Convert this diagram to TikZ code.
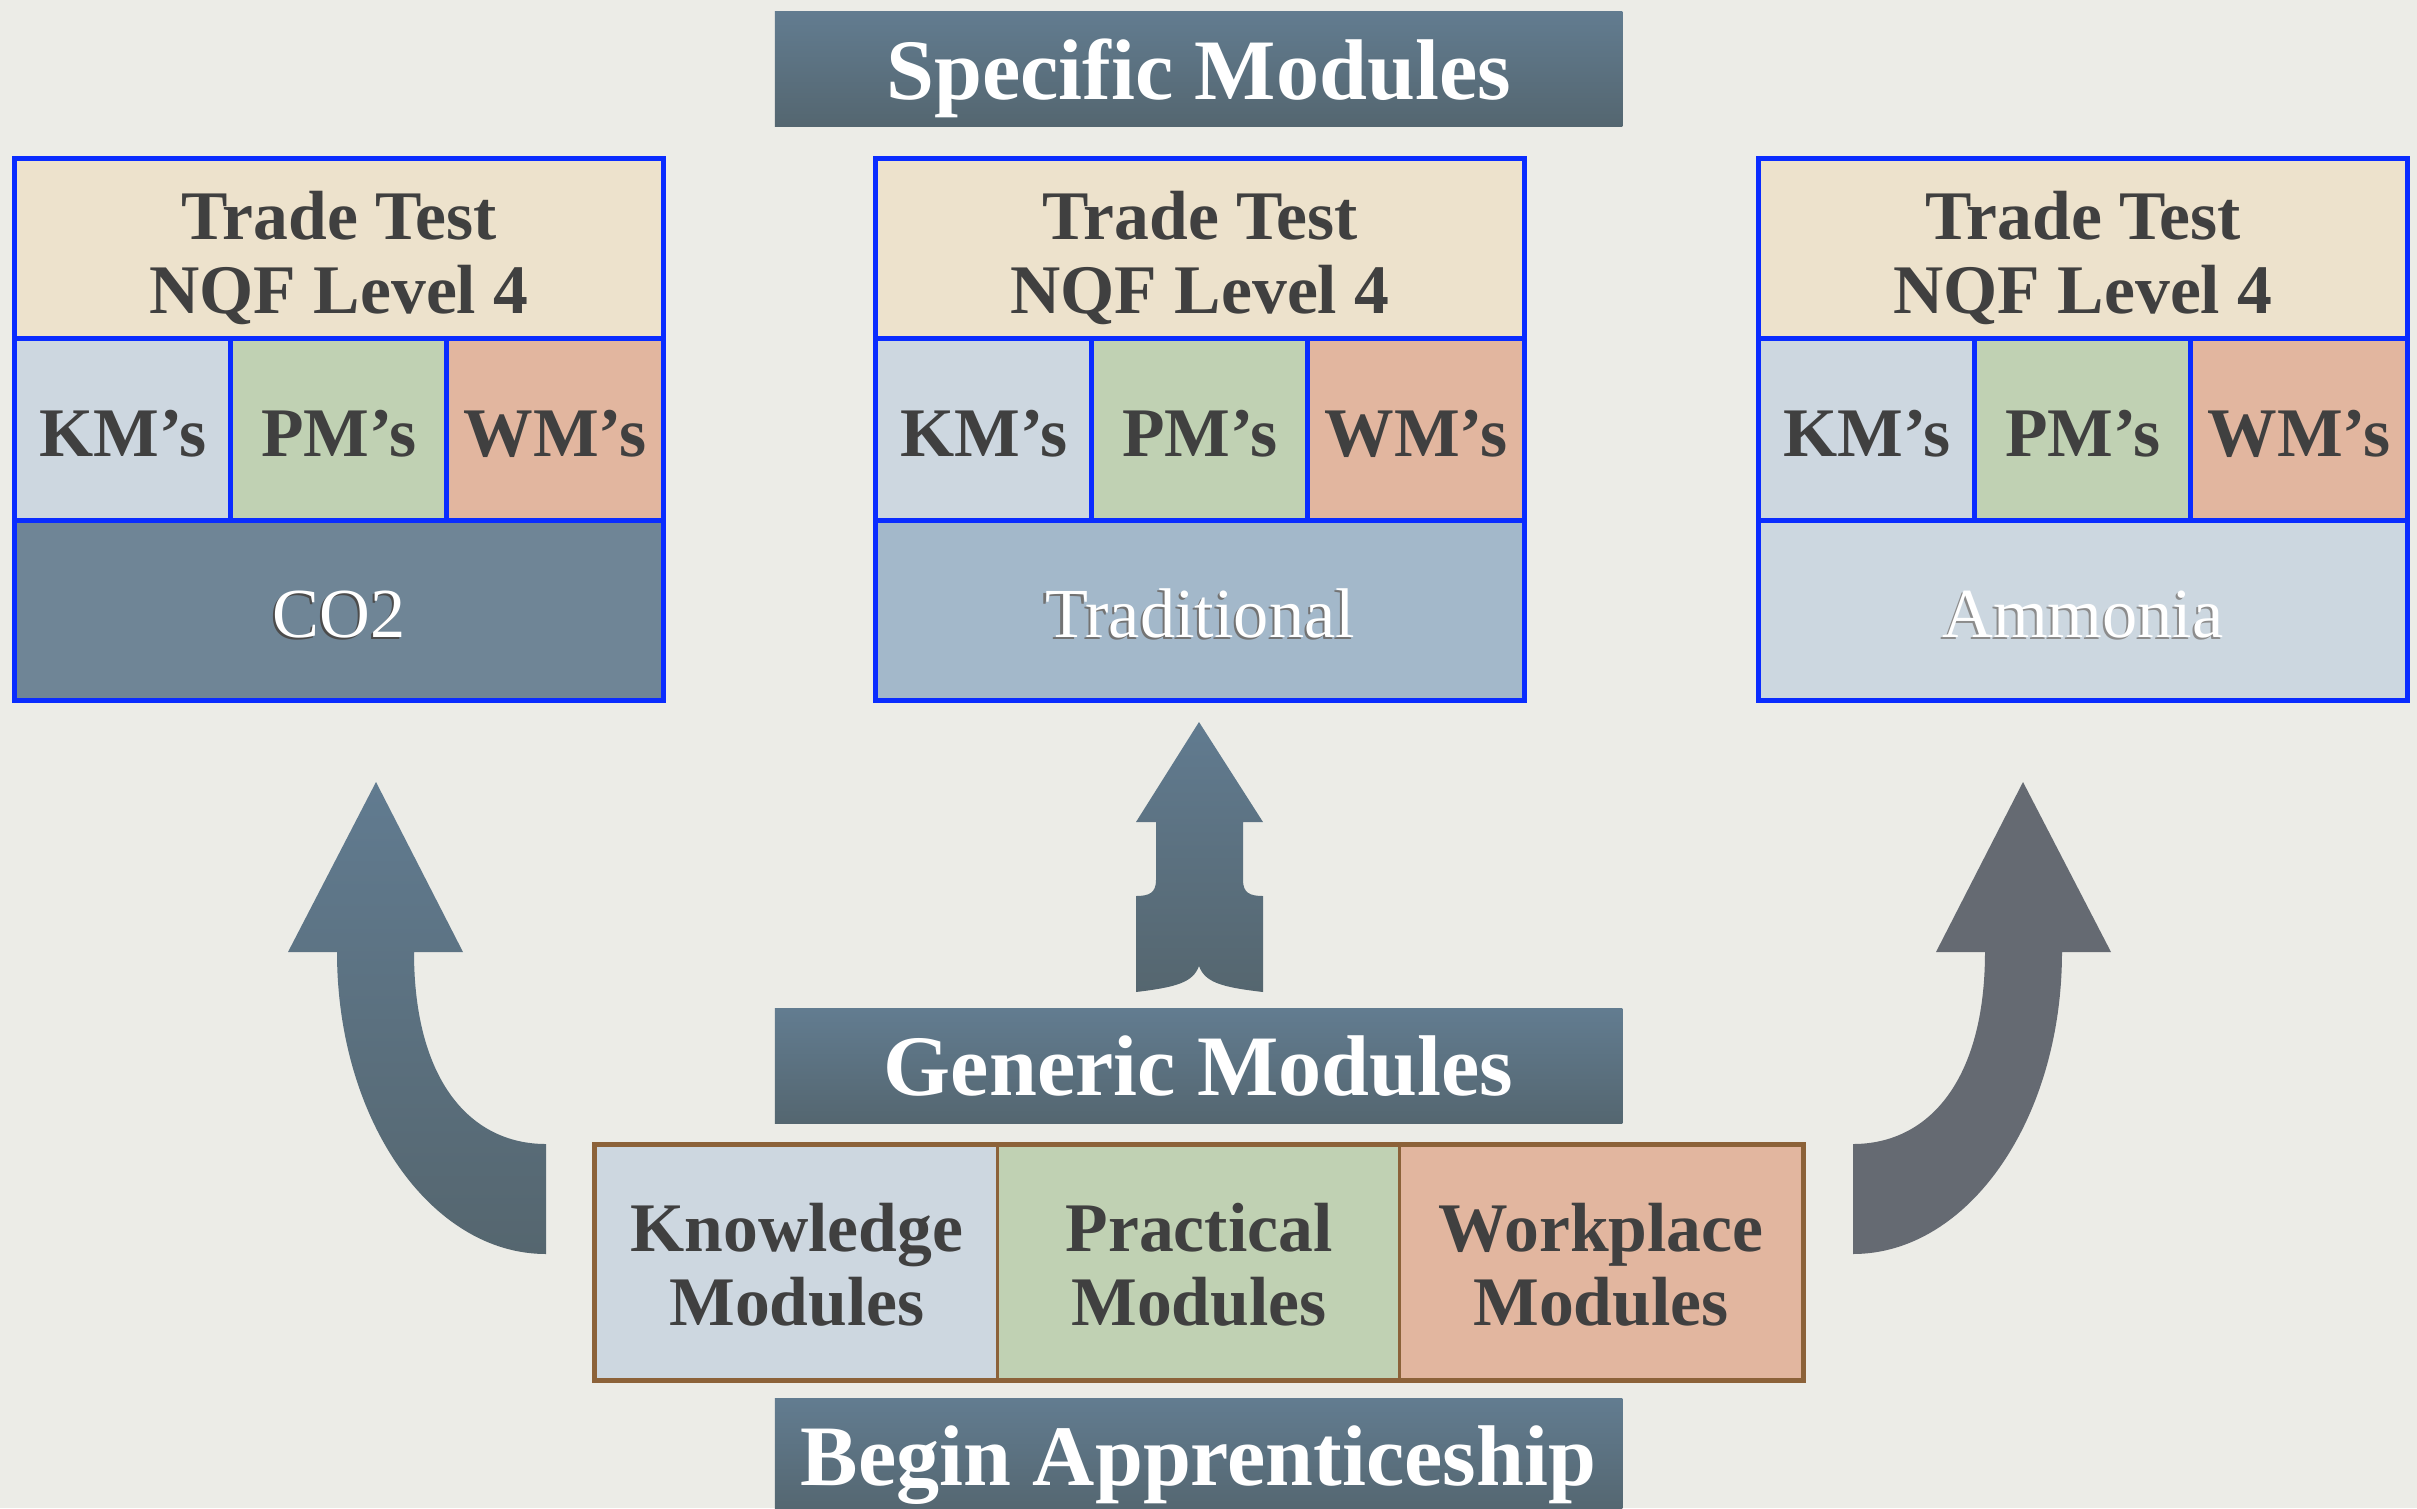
\documentclass[tikz,border=0pt]{standalone}
\usepackage{fontspec}
\setmainfont{Liberation Serif}
\definecolor{paper}{HTML}{ECECE7}
\definecolor{ink}{HTML}{404040}
\definecolor{edgeb}{HTML}{0A2CFF}
\definecolor{modedge}{HTML}{8C6239}
\definecolor{headc}{HTML}{EDE2CC}
\definecolor{kmc}{HTML}{CDD7E0}
\definecolor{pmc}{HTML}{C0D1B3}
\definecolor{wmc}{HTML}{E2B69F}
\definecolor{co2c}{HTML}{6F8596}
\definecolor{tradc}{HTML}{A3B8CA}
\definecolor{ammc}{HTML}{CCD7E0}
\definecolor{bantop}{HTML}{627C90}
\definecolor{banbot}{HTML}{546670}
\definecolor{arrtop}{HTML}{617B90}
\definecolor{arrbot}{HTML}{55666F}
\definecolor{arrgrey}{HTML}{656A72}
\newcommand{\shadowtext}[2]{\makebox[0pt][l]{\kern-0.6pt\raisebox{-0.6pt}{\textcolor{#1}{#2}}}#2}
\begin{document}
\begin{tikzpicture}[x=0.01cm,y=-0.01cm,
  boxcell/.style={draw=edgeb,line width=0.05cm,inner sep=0pt,outer sep=0pt,text=ink,
    font=\fontsize{19.8}{21}\selectfont\bfseries},
  hcell/.style={boxcell,minimum width=6.48cm,minimum height=1.8cm},
  tcell/.style={boxcell,minimum width=2.16cm,minimum height=1.81cm,text height=15.2pt,text depth=0pt},
  modcell/.style={draw=modedge,line width=0.03cm,inner sep=0pt,minimum width=4.02cm,minimum height=2.33cm,
    align=center,text=ink,font=\fontsize{19.8}{21}\selectfont\bfseries,text height=36pt,text depth=0pt},
  banner/.style={minimum width=8.47cm,minimum height=1.14cm,inner sep=0pt,top color=bantop,bottom color=banbot,
    text=white,font=\fontsize{24.5}{26}\selectfont\bfseries,text depth=0pt}]
  \clip (0,0) rectangle (2417,1508);
  \fill[paper] (0,0) rectangle (2417,1508);
  \shade[top color=arrtop,bottom color=arrbot] (546,1254) .. controls (431,1254) and (337,1120) .. (337,952)
    -- (288,952) -- (376,782) -- (463,952) -- (414,952) .. controls (414,1080) and (470,1144) .. (546,1144) -- cycle;
  \fill[arrgrey] (1853,1254) .. controls (1968,1254) and (2062,1120) .. (2062,952)
    -- (2111,952) -- (2023,782) -- (1936,952) -- (1985,952) .. controls (1985,1080) and (1929,1144) .. (1853,1144) -- cycle;
  \shade[top color=arrtop,bottom color=arrbot] (1199,722) -- (1263,822) -- (1243,822) -- (1243,880)
    .. controls (1243,893) and (1250,896) .. (1263,896) -- (1263,992)
    .. controls (1220,987) and (1205,982) .. (1199,966) .. controls (1193,982) and (1178,987) .. (1136,992)
    -- (1136,896) .. controls (1149,896) and (1156,893) .. (1156,880) -- (1156,822) -- (1136,822) -- cycle;
  \foreach \n/\xl/\fc/\lbl/\sc in {L/15/co2c/CO2/black!70,M/876/tradc/Traditional/black!55,R/1759/ammc/Ammonia/black!45} {
    \node[hcell,fill=headc,align=center,text height=36.6pt,text depth=0pt] (head\n) at (\xl+324,249) {Trade Test\\NQF Level 4};
    \node[tcell,fill=kmc] (km\n) at (\xl+108,429.5) {KM’s};
    \node[tcell,fill=pmc] (pm\n) at (\xl+324,429.5) {PM’s};
    \node[tcell,fill=wmc] (wm\n) at (\xl+540,429.5) {WM’s};
    \node[hcell,fill=\fc,text=white,font=\fontsize{20}{22}\selectfont,text height=15.4pt,text depth=0pt] (base\n) at (\xl+324,610.5) {\shadowtext{\sc}{\lbl}};
  }
  \node[modcell,fill=kmc] (kmod) at (797,1262.5) {Knowledge\\Modules};
  \node[modcell,fill=pmc] (pmod) at (1199,1262.5) {Practical\\Modules};
  \node[modcell,fill=wmc] (wmod) at (1601,1262.5) {Workplace\\Modules};
  \draw[modedge,line width=0.05cm] (kmod.north west) rectangle (wmod.south east);
  \node[banner] (spec) at (1198.5,69) {Specific Modules};
  \node[banner] (gen) at (1198.5,1066) {Generic Modules};
  \node[banner] (start) at (1198.5,1456) {Begin Apprenticeship};
\end{tikzpicture}
\end{document}
